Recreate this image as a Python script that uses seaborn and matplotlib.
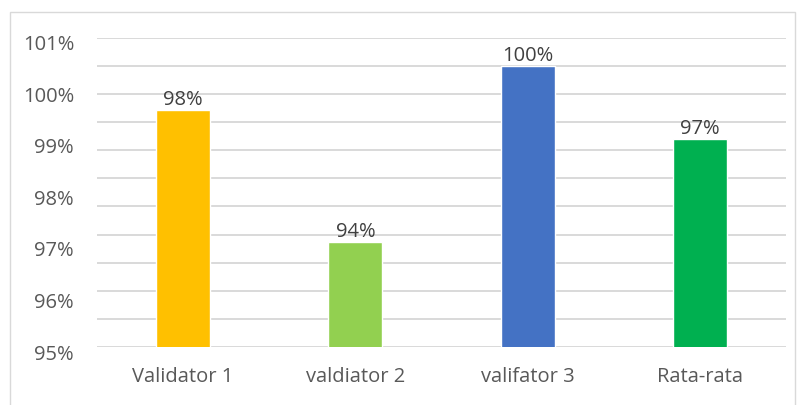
import numpy as np
import pandas as pd
import matplotlib
matplotlib.use('Agg')
import matplotlib.pyplot as plt
import matplotlib.transforms as mtransforms
from matplotlib.patches import Rectangle
import seaborn as sns

# data
categories = ['Validator 1', 'valdiator 2', 'valifator 3', 'Rata-rata']
values = [0.9960, 0.9704, 1.0045, 0.9903]
bar_labels = ['98%', '94%', '100%', '97%']
colors = ['#FFC000', '#92D050', '#4472C4', '#00B050']
ytick_values = [0.95, 0.96, 0.97, 0.98, 0.99, 1.00, 1.01]
ytick_labels = ['95%', '96%', '97%', '98%', '99%', '100%', '101%']

df = pd.DataFrame({'kategori': categories, 'nilai': values})

sns.set_theme(style='white')
plt.rcParams['font.family'] = ['Open Sans', 'DejaVu Sans']

fig = plt.figure(figsize=(7.98, 4.05), dpi=100)
ax = fig.add_axes([0.1216, 0.143, 0.985 - 0.1216, 0.907 - 0.143])

sns.barplot(data=df, x='kategori', y='nilai', hue='kategori', palette=colors,
            legend=False, width=0.314, ax=ax, saturation=1)

ax.set_ylim(0.95, 1.01)
ax.set_xlim(-0.5, 3.5)

# gridlines (Excel's odd spacing)
for g in np.linspace(0.95, 1.01, 12):
    ax.axhline(g, color='#D9D9D9', lw=1.4, zorder=0)

ax.set_yticks(ytick_values)
ax.set_yticklabels(ytick_labels, fontsize=14.5, color='#595959')
ax.tick_params(axis='y', length=0, pad=16.5)
ax.tick_params(axis='x', length=0, pad=14, labelsize=14.5, labelcolor='#595959')
off = mtransforms.ScaledTranslation(0, -5 / 100, fig.dpi_scale_trans)
for lab in ax.get_yticklabels():
    lab.set_transform(lab.get_transform() + off)

for s in ax.spines.values():
    s.set_visible(False)
ax.set_xlabel('')
ax.set_ylabel('')

for i, (v, t) in enumerate(zip(values, bar_labels)):
    ax.annotate(t, (i, v), xytext=(0, 0), textcoords='offset points',
                ha='center', va='bottom', fontsize=14.5, color='#404040')

# outer chart border
fig.patches.append(Rectangle((10 / 798, -0.05), (795 - 10) / 798, 1 - 12 / 405 + 0.05,
                             transform=fig.transFigure, fill=False,
                             edgecolor='#D9D9D9', lw=1))

plt.savefig('out.png', dpi=100)
